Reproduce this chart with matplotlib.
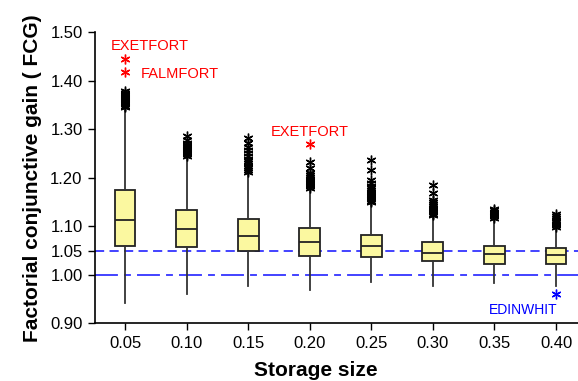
import matplotlib
matplotlib.use("Agg")
import matplotlib.pyplot as plt

plt.rcParams['font.family'] = ['Liberation Sans', 'DejaVu Sans']

storage = ["0.05", "0.10", "0.15", "0.20", "0.25", "0.30", "0.35", "0.40"]
whislo = [0.941, 0.960, 0.977, 0.969, 0.986, 0.977, 0.984, 0.977]
q1 = [1.060, 1.057, 1.050, 1.039, 1.036, 1.029, 1.022, 1.022]
med = [1.113, 1.095, 1.081, 1.068, 1.060, 1.045, 1.042, 1.041]
q3 = [1.175, 1.134, 1.116, 1.096, 1.083, 1.068, 1.060, 1.055]
whishi = [1.344, 1.243, 1.210, 1.178, 1.147, 1.120, 1.116, 1.096]
fliers = [
    [1.346, 1.349, 1.352, 1.354, 1.356, 1.358, 1.360, 1.362, 1.364, 1.366, 1.368, 1.370, 1.372, 1.375, 1.378],
    [1.246, 1.249, 1.251, 1.253, 1.255, 1.257, 1.259, 1.261, 1.263, 1.265, 1.268, 1.272, 1.278, 1.286],
    [1.212, 1.216, 1.220, 1.225, 1.230, 1.235, 1.239, 1.245, 1.251, 1.258, 1.264, 1.272, 1.282],
    [1.180, 1.183, 1.186, 1.189, 1.192, 1.195, 1.198, 1.201, 1.205, 1.210, 1.220, 1.233],
    [1.150, 1.153, 1.156, 1.159, 1.162, 1.165, 1.168, 1.171, 1.174, 1.178, 1.183, 1.190, 1.196, 1.216, 1.237],
    [1.123, 1.126, 1.129, 1.132, 1.135, 1.138, 1.141, 1.145, 1.150, 1.155, 1.168, 1.186],
    [1.118, 1.121, 1.124, 1.127, 1.130, 1.133, 1.136],
    [1.099, 1.102, 1.105, 1.108, 1.111, 1.114, 1.118, 1.122, 1.126],
]

# labelled outliers: (box index, value, name, colour)
special = [(0, 1.445, "EXETFORT", "red"), (0, 1.419, "FALMFORT", "red"),
           (3, 1.269, "EXETFORT", "red"), (7, 0.960, "EDINWHIT", "blue")]

stats = []
for i in range(len(storage)):
    stats.append(dict(whislo=whislo[i], q1=q1[i], med=med[i], q3=q3[i],
                      whishi=whishi[i], fliers=fliers[i]))

fig = plt.figure(figsize=(5.78, 3.81), dpi=100)
ax = fig.add_axes([0.1644, 0.1514, 0.8356, 0.7638])

asterisk = (6, 2, 0)
pos = list(range(1, len(storage) + 1))
ax.bxp(stats, positions=pos, widths=0.34, patch_artist=True, showcaps=False,
       boxprops=dict(facecolor="#fbf8a0", edgecolor="#222222", linewidth=1.3),
       medianprops=dict(color="#222222", linewidth=1.3),
       whiskerprops=dict(color="#333333", linewidth=1.3),
       flierprops=dict(marker=asterisk, markersize=7, markeredgecolor="black",
                       markeredgewidth=1.0, linestyle="none"),
       zorder=3)

ax.axhline(1.05, color="#1010ff", linewidth=1.1, linestyle=(0, (6, 3.5)), zorder=1)
ax.axhline(1.00, color="#1010ff", linewidth=1.1, linestyle=(0, (15, 4, 4.5, 4)), zorder=1)

for i, v, name, col in special:
    ax.plot(pos[i], v, marker=asterisk, markersize=7, markeredgecolor=col,
            markeredgewidth=1.0, linestyle="none", zorder=4)

ax.text(0.77, 1.472, "EXETFORT", color="red", fontsize=10.5, ha="left", va="center")
ax.text(1.255, 1.414, "FALMFORT", color="red", fontsize=10.5, ha="left", va="center")
ax.text(3.37, 1.294, "EXETFORT", color="red", fontsize=10.5, ha="left", va="center")
ax.text(8.02, 0.927, "EDINWHIT", color="blue", fontsize=10, ha="right", va="center")

ax.set_xlim(0.513, 8.357)
ax.set_ylim(0.90, 1.50)
ax.set_xticks(pos)
ax.set_xticklabels(storage)
ax.set_yticks([0.90, 1.00, 1.05, 1.10, 1.20, 1.30, 1.40, 1.50])
ax.set_yticklabels(["0.90", "1.00", "1.05", "1.10", "1.20", "1.30", "1.40", "1.50"])
ax.tick_params(labelsize=12, length=5, width=1, direction="out", pad=4)
ax.spines["top"].set_visible(False)
ax.spines["right"].set_visible(False)
ax.spines["left"].set_linewidth(1.2)
ax.spines["bottom"].set_linewidth(1.2)
ax.set_xlabel("Storage size", fontsize=15, fontweight="bold", va="center")
ax.xaxis.set_label_coords(0.457, -0.162)
ax.set_ylabel("Factorial conjunctive gain ( FCG)", fontsize=15, fontweight="bold", labelpad=6)

fig.savefig("out.png", dpi=100)
